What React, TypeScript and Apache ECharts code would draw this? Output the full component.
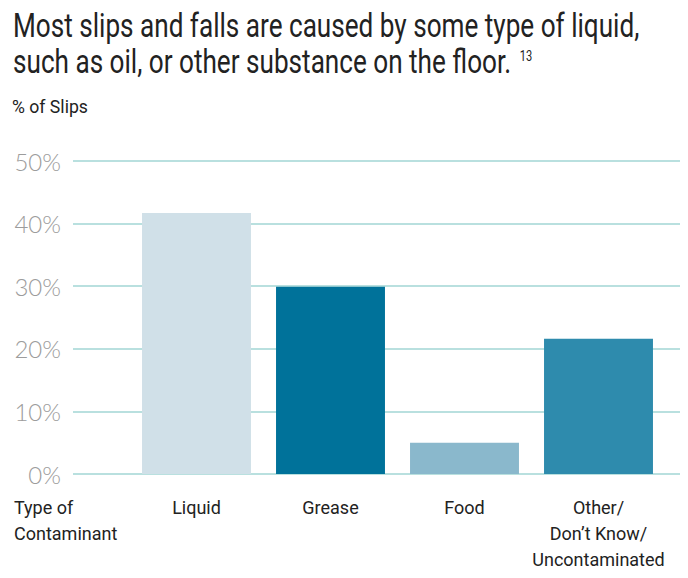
import React, { useEffect, useRef } from "react";
import * as echarts from "echarts";

const categories = ["Liquid", "Grease", "Food", "Other/\nDon’t Know/\nUncontaminated"];
const values = [41.7, 29.9, 5.0, 21.6];
const barColors = ["#d0e0e8", "#00729a", "#8ab8cc", "#2e8bad"];
const yTicks = [0, 10, 20, 30, 40, 50];
const titleLines = [
  "Most slips and falls are caused by some type of liquid,",
  "such as oil, or other substance on the floor.",
];
const footnote = "13";
const yAxisTitle = "% of Slips";
const xAxisTitle = "Type of\nContaminant";

const FONT = "Roboto";

function measure(text: string, font: string): number {
  const c = document.createElement("canvas").getContext("2d")!;
  c.font = font;
  return c.measureText(text).width;
}

export default function App() {
  const ref = useRef<HTMLDivElement>(null);
  useEffect(() => {
    document.body.style.margin = "0";
    const chart = echarts.init(ref.current!, null, { renderer: "svg" });
    const titleFont = `33px ${FONT}`;
    const w1 = measure(titleLines[0], titleFont);
    const sT = 627 / w1;
    const w2 = measure(titleLines[1], titleFont) * sT;
    const subFont = `19px ${FONT}`;
    const sS = 76 / measure(yAxisTitle, subFont);

    chart.setOption({
      animation: false,
      backgroundColor: "#ffffff",
      graphic: [
        {
          type: "text",
          x: 13,
          y: 25,
          scaleX: sT,
          style: { x: 0, y: 0, text: titleLines[0], font: titleFont, fill: "#222222", textVerticalAlign: "middle" },
        },
        {
          type: "text",
          x: 13,
          y: 61,
          scaleX: sT,
          style: { x: 0, y: 0, text: titleLines[1], font: titleFont, fill: "#222222", textVerticalAlign: "middle" },
        },
        {
          type: "text",
          x: 13 + w2 + 8,
          y: 56,
          scaleX: sT,
          style: { x: 0, y: 0, text: footnote, font: `14px ${FONT}`, fill: "#222222", textVerticalAlign: "middle" },
        },
        {
          type: "text",
          x: 12,
          y: 106,
          scaleX: sS,
          style: { x: 0, y: 0, text: yAxisTitle, font: subFont, fill: "#222222", textVerticalAlign: "middle" },
        },
        {
          type: "text",
          x: 14,
          y: 494,
          style: { x: 0, y: 0, text: xAxisTitle, font: `18px ${FONT}`, fill: "#222222", lineHeight: 26, textVerticalAlign: "top" },
        },
      ],
      grid: [
        { left: 73, right: 8, top: 161, height: 313 },
        { left: 129.5, width: 536, top: 161, height: 313 },
      ],
      xAxis: [
        { gridIndex: 0, type: "category", data: [""], show: false },
        {
          gridIndex: 1,
          type: "category",
          data: categories,
          axisLine: { show: false },
          axisTick: { show: false },
          axisLabel: {
            interval: 0,
            margin: 20,
            fontFamily: FONT,
            fontSize: 18,
            lineHeight: 26,
            color: "#222222",
            verticalAlign: "top",
          },
        },
      ],
      yAxis: [
        {
          gridIndex: 0,
          type: "value",
          min: yTicks[0],
          max: yTicks[yTicks.length - 1],
          interval: 10,
          axisLine: { show: false },
          axisTick: { show: false },
          axisLabel: {
            formatter: "{value}%",
            margin: 12,
            fontFamily: "Lato",
            fontWeight: 300,
            fontSize: 24,
            color: "#9c9c9c",
          },
          splitLine: { lineStyle: { color: "#b9e0df", width: 2 } },
        },
        {
          gridIndex: 1,
          type: "value",
          min: yTicks[0],
          max: yTicks[yTicks.length - 1],
          interval: 10,
          show: false,
          splitLine: { show: false },
        },
      ],
      series: [
        {
          type: "bar",
          xAxisIndex: 1,
          yAxisIndex: 1,
          barCategoryGap: "18.7%",
          data: values.map((v, i) => ({ value: v, itemStyle: { color: barColors[i] } })),
        },
      ],
    });
    return () => chart.dispose();
  }, []);
  return <div ref={ref} style={{ width: 688, height: 578 }} />;
}
